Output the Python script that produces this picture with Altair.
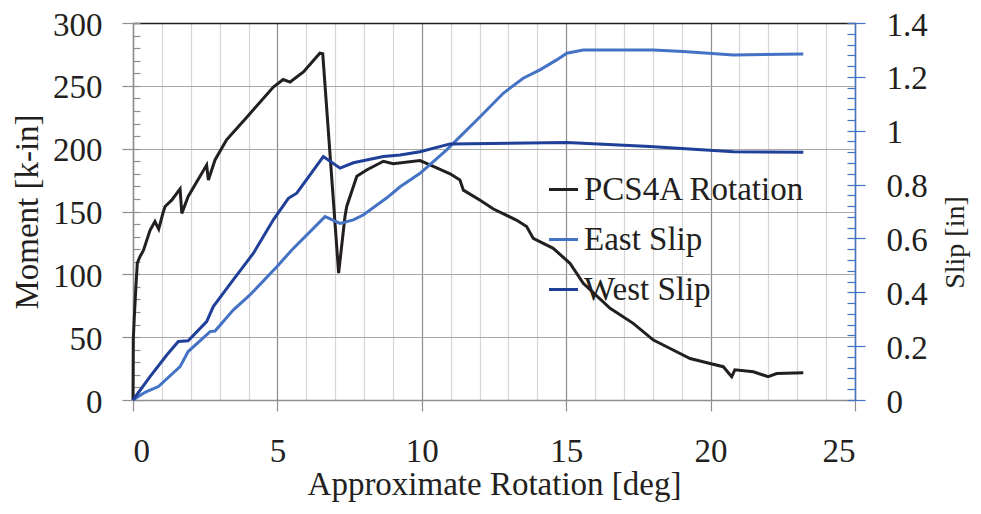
import altair as alt
import pandas as pd

FONT = "serif"
FS = 33
TXT = "#231f20"

# ---- data ----
rot_deg = [0, 0.01, 0.045, 0.10, 0.15, 0.24, 0.36, 0.59, 0.76, 0.89, 1.04, 1.11, 1.34, 1.63, 1.69,
           1.91, 2.55, 2.61, 2.84, 3.24, 3.94, 4.86, 5.20, 5.44, 5.90, 6.47, 6.57, 7.12, 7.34, 7.40,
           7.75, 8.09, 8.67, 9.01, 9.94, 10.40, 10.98, 11.32, 11.44, 12.02, 12.48, 13.29, 13.63, 13.86,
           14.55, 15.13, 15.59, 16.52, 17.32, 18.02, 18.48, 19.29, 19.98, 20.44, 20.73, 20.84, 21.48,
           21.99, 22.29, 23.21]
moment = [0, 48, 66, 90, 109, 114, 119, 135, 142, 136, 149, 154, 159, 168, 148.5,
          162, 187, 175, 191, 207, 225, 249, 255, 253, 261, 276, 275.5, 101, 146, 154,
          178, 183, 190, 188, 190.5, 186, 180, 175, 167, 159, 152, 143, 138, 128.6,
          120.7, 108.8, 92.8, 73, 61, 47.7, 42.4, 33, 29, 26.5, 18.5, 24, 22.5,
          18.5, 21, 21.7]

east_deg = [0, 0.36, 0.47, 0.88, 1.63, 1.91, 2.67, 2.84, 3.47, 4.05, 4.98, 5.50, 6.65, 7.17, 7.63,
            7.97, 8.78, 9.25, 9.94, 10.86, 12.02, 12.82, 13.51, 14.09, 14.67, 15.02, 15.59, 18.02,
            19.05, 20.79, 23.21]
east_slip = [0, 0.025, 0.031, 0.05, 0.124, 0.18, 0.254, 0.256, 0.334, 0.39, 0.495, 0.557, 0.681, 0.656,
             0.669, 0.687, 0.75, 0.792, 0.842, 0.929, 1.052, 1.139, 1.195, 1.226, 1.263, 1.288, 1.30,
             1.30, 1.294, 1.281, 1.285]

west_deg = [0, 0.59, 1.17, 1.57, 1.91, 2.55, 2.78, 3.47, 4.17, 4.86, 5.38, 5.67, 6.59, 7.17, 7.63,
            8.67, 9.25, 9.94, 10.98, 15.02, 17.90, 20.79, 23.21]
west_slip = [0, 0.087, 0.167, 0.217, 0.22, 0.291, 0.347, 0.446, 0.545, 0.669, 0.749, 0.768, 0.904,
             0.861, 0.881, 0.904, 0.91, 0.922, 0.951, 0.956, 0.941, 0.922, 0.920]

series_names = ["PCS4A Rotation", "East Slip", "West Slip"]
series_colors = ["#231f20", "#4472c4", "#203f99"]

x_ticks_major = [0, 5, 10, 15, 20, 25]
x_ticks_minor = list(range(0, 26))
m_ticks_major = [0, 50, 100, 150, 200, 250, 300]
m_ticks_minor = list(range(0, 301, 10))
s_ticks_major = [0, 0.2, 0.4, 0.6, 0.8, 1.0, 1.2, 1.4]
s_ticks_minor = [round(i * 0.04, 2) for i in range(36)]

m_df = pd.DataFrame({"deg": rot_deg, "val": moment, "series": series_names[0]})
e_df = pd.DataFrame({"deg": east_deg, "val": east_slip, "series": series_names[1]})
w_df = pd.DataFrame({"deg": west_deg, "val": west_slip, "series": series_names[2]})

xs = alt.Scale(domain=[0, 25], nice=False, zero=False)
ms = alt.Scale(domain=[0, 300], nice=False)
ss = alt.Scale(domain=[0, 1.4], nice=False)
cs = alt.Scale(domain=series_names, range=series_colors)

legend = alt.Legend(title=None, orient="none", legendX=414, legendY=150,
                    symbolType="stroke", symbolSize=841, symbolStrokeWidth=3,
                    labelFont=FONT, labelFontSize=FS, labelColor=TXT,
                    rowPadding=16, labelOffset=4, labelLimit=400)

color_enc = alt.Color("series:N", scale=cs, legend=legend)

moment_line = alt.Chart(m_df).mark_line(strokeWidth=3).encode(
    x=alt.X("deg:Q", scale=xs, axis=alt.Axis(
        orient="bottom", values=x_ticks_major, grid=True, gridColor="#8f8f8f", gridWidth=1.2,
        tickSize=11, tickColor="#8f8f8f", tickWidth=1.2, domainColor="#8f8f8f", domainWidth=1.5,
        labelFont=FONT, labelFontSize=FS, labelColor=TXT, labelPadding=24,
        title="Approximate Rotation [deg]", titleFont=FONT, titleFontSize=FS,
        titleFontWeight="normal", titleColor=TXT, titlePadding=0)),
    y=alt.Y("val:Q", scale=ms, axis=alt.Axis(
        orient="left", values=m_ticks_major, grid=True, gridColor="#a8a8a8", gridWidth=1.2,
        tickSize=11, tickColor="#8f8f8f", tickWidth=1.2, domainColor="#8f8f8f", domainWidth=1.5,
        labelFont=FONT, labelFontSize=FS, labelColor=TXT, labelPadding=20, labelOffset=2,
        title="Moment [k-in]", titleFont=FONT, titleFontSize=FS,
        titleFontWeight="normal", titleColor=TXT, titlePadding=8)),
    color=color_enc,
)

left_minor = alt.Chart(m_df).mark_line(opacity=0).encode(
    x=alt.X("deg:Q", scale=xs, axis=alt.Axis(
        orient="bottom", values=x_ticks_minor, grid=True, gridColor="#d6d6d6", gridWidth=1.2,
        ticks=False, labels=False, domain=False, title=None)),
    y=alt.Y("val:Q", scale=ms, axis=alt.Axis(
        orient="left", values=m_ticks_minor, offset=-7, tickSize=7, tickColor="#8f8f8f",
        tickWidth=1.2, labels=False, domain=False, grid=False, title=None)),
)

east_line = alt.Chart(e_df).mark_line(strokeWidth=3).encode(
    x=alt.X("deg:Q", scale=xs, axis=alt.Axis(
        orient="top", domain=True, domainColor="#231f20", domainWidth=1.5,
        ticks=False, labels=False, grid=False, title=None)),
    y=alt.Y("val:Q", scale=ss, axis=alt.Axis(
        orient="right", values=s_ticks_major, grid=False,
        tickSize=10, tickColor="#4472c4", tickWidth=1.2, domainColor="#4472c4", domainWidth=1.5,
        labelFont=FONT, labelFontSize=FS, labelColor=TXT, labelPadding=21, labelOffset=2,
        labelExpr="format(datum.value, '~g')",
        title="Slip   [in]", titleFont=FONT, titleFontSize=28, titleAngle=270,
        titleBaseline="top", titleY=219,
        titleFontWeight="normal", titleColor=TXT, titlePadding=14)),
    color=color_enc,
)

west_line = alt.Chart(w_df).mark_line(strokeWidth=3).encode(
    x=alt.X("deg:Q", scale=xs, axis=None),
    y=alt.Y("val:Q", scale=ss, axis=alt.Axis(
        orient="right", values=s_ticks_minor, offset=-8, tickSize=8, tickColor="#4472c4",
        tickWidth=1.2, labels=False, domain=False, grid=False, title=None)),
    color=color_enc,
)

chart = alt.layer(left_minor, moment_line, east_line, west_line).resolve_scale(
    x="independent", y="independent", color="shared"
).properties(
    width=722, height=377,
    autosize=alt.AutoSizeParams(type="none"),
    padding={"left": 125, "top": 15, "right": 118, "bottom": 104},
).configure_view(stroke=None)

chart.save("out.html", embed_options={"renderer": "svg", "actions": False})
